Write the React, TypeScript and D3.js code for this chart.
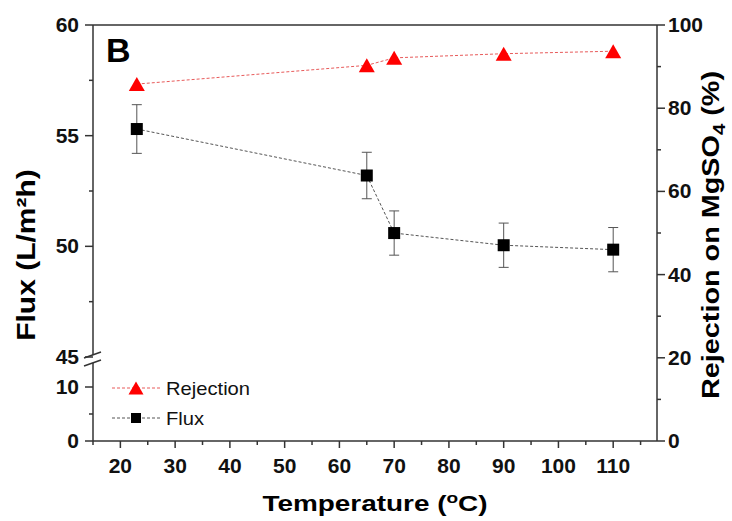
import React from "react";
import * as d3 from "d3";

const temps = [23, 65, 70, 90, 110];
const rejection = [85.8, 90.3, 92.1, 93.1, 93.7];
const flux = [55.3, 53.2, 50.6, 50.05, 49.85];
const fluxErr = [1.1, 1.05, 1.0, 1.0, 1.0];

const xMajor = [20, 30, 40, 50, 60, 70, 80, 90, 100, 110];
const xMinor = [15, 25, 35, 45, 55, 65, 75, 85, 95, 105, 115];
const yUpMajor = [45, 50, 55, 60];
const yUpMinor = [47.5, 52.5, 57.5];
const yLowMajor = [0, 10];
const yLowMinor = [5];
const yRMajor = [0, 20, 40, 60, 80, 100];
const yRMinor = [10, 30, 50, 70, 90];

const FONT = "'Liberation Sans', Arial, sans-serif";
const AX = "#333";

export default function App() {
  const L = 93, R = 657, T = 25, B = 441;
  const x = d3.scaleLinear().domain([15, 118]).range([L, R]);
  const yUp = d3.scaleLinear().domain([45, 60]).range([357, T]);
  const yLow = d3.scaleLinear().domain([0, 10]).range([B, 387]);
  const yR = d3.scaleLinear().domain([0, 100]).range([B, T]);

  const rejLine = d3.line<number>().x((_, i) => x(temps[i])).y((d) => yR(d));
  const fluxLine = d3.line<number>().x((_, i) => x(temps[i])).y((d) => yUp(d));

  const tri = (cx: number, cy: number, w: number, h: number) =>
    `M${cx - w / 2},${cy + h / 2}L${cx + w / 2},${cy + h / 2}L${cx},${cy - h / 2}Z`;

  const breakTop = 355;
  const breakBot = 363;

  return (
    <svg width={732} height={521} style={{ position: "absolute", left: 0, top: 0, background: "#fff" }} fontFamily={FONT}>
      <rect x={0} y={0} width={732} height={521} fill="#fff" />
      {/* frame */}
      <line x1={L} x2={R} y1={T} y2={T} stroke={AX} strokeWidth={1.5} />
      <line x1={L} x2={R} y1={B} y2={B} stroke={AX} strokeWidth={1.5} />
      <line x1={R} x2={R} y1={T} y2={B} stroke={AX} strokeWidth={1.5} />
      <line x1={L} x2={L} y1={T} y2={breakTop} stroke={AX} strokeWidth={1.5} />
      <line x1={L} x2={L} y1={breakBot} y2={B} stroke={AX} strokeWidth={1.5} />
      {/* break marks */}
      <line x1={L - 9} x2={L + 8} y1={breakTop + 3} y2={breakTop - 3} stroke={AX} strokeWidth={1.5} />
      <line x1={L - 9} x2={L + 8} y1={breakBot + 3} y2={breakBot - 3} stroke={AX} strokeWidth={1.5} />

      {/* x ticks */}
      {xMajor.map((t) => (
        <g key={"xm" + t}>
          <line x1={x(t)} x2={x(t)} y1={B} y2={B + 7} stroke={AX} strokeWidth={1.5} />
          <text x={x(t)} y={473} textAnchor="middle" fontSize={21} fontWeight="bold" fill="#111">{t}</text>
        </g>
      ))}
      {xMinor.map((t) => (
        <line key={"xn" + t} x1={x(t)} x2={x(t)} y1={B} y2={B + 4} stroke={AX} strokeWidth={1.5} />
      ))}

      {/* left upper ticks */}
      {yUpMajor.map((t) => (
        <g key={"yu" + t}>
          <line x1={L - 8} x2={L} y1={yUp(t)} y2={yUp(t)} stroke={AX} strokeWidth={1.5} />
          <text x={79} y={yUp(t) + 7} textAnchor="end" fontSize={21} fontWeight="bold" fill="#111">{t}</text>
        </g>
      ))}
      {yUpMinor.map((t) => (
        <line key={"yun" + t} x1={L - 4} x2={L} y1={yUp(t)} y2={yUp(t)} stroke={AX} strokeWidth={1.5} />
      ))}
      {yLowMajor.map((t) => (
        <g key={"yl" + t}>
          <line x1={L - 8} x2={L} y1={yLow(t)} y2={yLow(t)} stroke={AX} strokeWidth={1.5} />
          <text x={79} y={yLow(t) + 7} textAnchor="end" fontSize={21} fontWeight="bold" fill="#111">{t}</text>
        </g>
      ))}
      {yLowMinor.map((t) => (
        <line key={"yln" + t} x1={L - 4} x2={L} y1={yLow(t)} y2={yLow(t)} stroke={AX} strokeWidth={1.5} />
      ))}

      {/* right ticks */}
      {yRMajor.map((t) => (
        <g key={"yr" + t}>
          <line x1={R} x2={R + 8} y1={yR(t)} y2={yR(t)} stroke={AX} strokeWidth={1.5} />
          <text x={668} y={yR(t) + 7} textAnchor="start" fontSize={21} fontWeight="bold" fill="#111">{t}</text>
        </g>
      ))}
      {yRMinor.map((t) => (
        <line key={"yrn" + t} x1={R} x2={R + 4} y1={yR(t)} y2={yR(t)} stroke={AX} strokeWidth={1.5} />
      ))}

      {/* series lines */}
      <path d={rejLine(rejection) || ""} fill="none" stroke="#e85a5a" strokeWidth={1} strokeDasharray="3,2" />
      <path d={fluxLine(flux) || ""} fill="none" stroke="#555" strokeWidth={1} strokeDasharray="3,2" />

      {/* error bars */}
      {flux.map((v, i) => {
        const cx = x(temps[i]);
        const y1 = yUp(v + fluxErr[i]);
        const y2 = yUp(v - fluxErr[i]);
        return (
          <g key={"e" + i} stroke="#555" strokeWidth={1}>
            <line x1={cx} x2={cx} y1={y1} y2={y2} />
            <line x1={cx - 5} x2={cx + 5} y1={y1} y2={y1} />
            <line x1={cx - 5} x2={cx + 5} y1={y2} y2={y2} />
          </g>
        );
      })}

      {/* markers */}
      {rejection.map((v, i) => (
        <path key={"t" + i} d={tri(x(temps[i]), yR(v), 16, 14)} fill="#ff0000" />
      ))}
      {flux.map((v, i) => (
        <rect key={"s" + i} x={x(temps[i]) - 6} y={yUp(v) - 6} width={12} height={12} fill="#000" />
      ))}

      {/* panel label */}
      <text x={106} y={62} fontSize={34} fontWeight="bold" fill="#000">B</text>

      {/* legend */}
      <line x1={112} x2={160} y1={388} y2={388} stroke="#e85a5a" strokeWidth={1} strokeDasharray="3,2" />
      <path d={tri(136, 388, 15, 13)} fill="#ff0000" />
      <text x={166} y={395} fontSize={18} fill="#111" transform="translate(166,0) scale(1.12,1) translate(-166,0)">Rejection</text>
      <line x1={112} x2={160} y1={418} y2={418} stroke="#555" strokeWidth={1} strokeDasharray="3,2" />
      <rect x={131} y={413} width={10} height={10} fill="#000" />
      <text x={166} y={425} fontSize={18} fill="#111" transform="translate(166,0) scale(1.12,1) translate(-166,0)">Flux</text>

      {/* axis titles */}
      <g transform="translate(35,255) rotate(-90) scale(1.2,1)">
        <text x={0} y={0} textAnchor="middle" fontSize={25} fontWeight="bold" fill="#000">Flux (L/m²h)</text>
      </g>
      <g transform="translate(375,511) scale(1.27,1)">
        <text x={0} y={0} textAnchor="middle" fontSize={22} fontWeight="bold" fill="#000">
          Temperature (<tspan fontSize={15} dy={-8}>o</tspan><tspan dy={8}>C)</tspan>
        </text>
      </g>
      <g transform="translate(719,235) rotate(-90) scale(1.2,1)">
        <text x={0} y={0} textAnchor="middle" fontSize={24} fontWeight="bold" fill="#000">
          Rejection on MgSO<tspan fontSize={17} dy={6}>4</tspan><tspan dy={-6}> (%)</tspan>
        </text>
      </g>
    </svg>
  );
}
